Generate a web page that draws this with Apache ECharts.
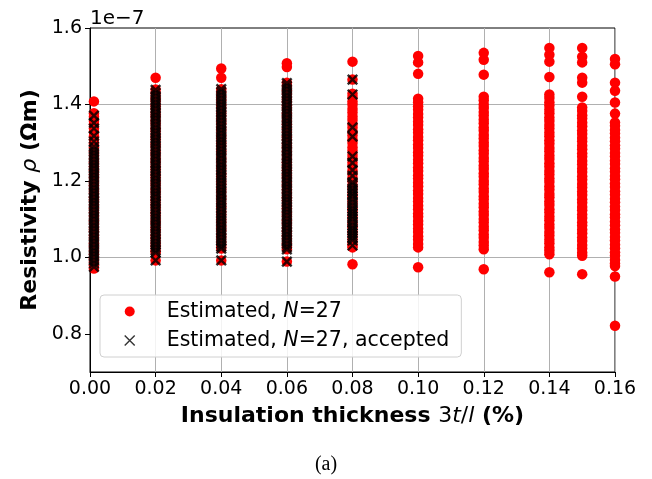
<!DOCTYPE html>
<html><head><meta charset="utf-8">
<script src="https://cdn.jsdelivr.net/npm/echarts@6/dist/echarts.min.js"></script>
<style>html,body{margin:0;padding:0;background:#fff}#c{width:652px;height:479px}</style>
</head><body><div id="c"></div>
<script>
// x positions of the columns (insulation thickness, %)
const xCols = [0.0012, 0.02, 0.04, 0.06, 0.08, 0.10, 0.12, 0.14, 0.15, 0.16];
// Estimated, N=27 (resistivity, units of 1e-7 Ohm m)
const est000 = [1.408,1.377,1.368,1.357,1.348,1.337,1.328,1.317,1.308,1.297,1.288,1.277,1.268,1.257,1.248,1.237,1.228,1.217,1.208,1.197,1.188,1.177,1.168,1.157,1.148,1.137,1.128,1.117,1.108,1.097,1.088,1.077,1.068,1.057,1.048,1.037,1.028,1.017,1.008,0.997,0.988,0.979,0.971];
const est002 = [1.470,1.439,1.429,1.418,1.409,1.398,1.389,1.378,1.369,1.358,1.349,1.338,1.329,1.318,1.309,1.298,1.289,1.278,1.269,1.258,1.249,1.238,1.229,1.218,1.209,1.198,1.189,1.178,1.169,1.158,1.149,1.138,1.129,1.118,1.109,1.098,1.089,1.078,1.069,1.058,1.049,1.038,1.029,1.018,1.012,0.992];
const est004 = [1.494,1.470,1.440,1.431,1.420,1.411,1.400,1.391,1.380,1.371,1.360,1.351,1.340,1.331,1.320,1.311,1.300,1.291,1.280,1.271,1.260,1.251,1.240,1.231,1.220,1.211,1.200,1.191,1.180,1.171,1.160,1.151,1.140,1.131,1.120,1.111,1.100,1.091,1.080,1.071,1.060,1.051,1.040,1.031,1.023,0.992];
const est006 = [1.508,1.498,1.457,1.448,1.437,1.428,1.417,1.408,1.397,1.388,1.377,1.368,1.357,1.348,1.337,1.328,1.317,1.308,1.297,1.288,1.277,1.268,1.257,1.248,1.237,1.228,1.217,1.208,1.197,1.188,1.177,1.168,1.157,1.148,1.137,1.128,1.117,1.108,1.097,1.088,1.077,1.068,1.057,1.048,1.037,1.028,1.021,0.989];
const est008 = [1.512,1.465,1.428,1.419,1.408,1.399,1.388,1.379,1.368,1.359,1.348,1.339,1.328,1.319,1.308,1.299,1.288,1.279,1.268,1.259,1.248,1.239,1.228,1.219,1.208,1.199,1.188,1.179,1.168,1.159,1.148,1.139,1.128,1.119,1.108,1.099,1.088,1.079,1.068,1.059,1.048,1.039,1.031,1.026,0.982];
const est010 = [1.527,1.510,1.480,1.415,1.406,1.395,1.386,1.375,1.366,1.355,1.346,1.335,1.326,1.315,1.306,1.295,1.286,1.275,1.266,1.255,1.246,1.235,1.226,1.215,1.206,1.195,1.186,1.175,1.166,1.155,1.146,1.135,1.126,1.115,1.106,1.095,1.086,1.075,1.066,1.055,1.046,1.035,1.026,0.974];
const est012 = [1.535,1.517,1.478,1.420,1.411,1.400,1.391,1.380,1.371,1.360,1.351,1.340,1.331,1.320,1.311,1.300,1.291,1.280,1.271,1.260,1.251,1.240,1.231,1.220,1.211,1.200,1.191,1.180,1.171,1.160,1.151,1.140,1.131,1.120,1.111,1.100,1.091,1.080,1.071,1.060,1.051,1.040,1.031,1.021,0.969];
const est014 = [1.548,1.530,1.512,1.472,1.426,1.417,1.406,1.397,1.386,1.377,1.366,1.357,1.346,1.337,1.326,1.317,1.306,1.297,1.286,1.277,1.266,1.257,1.246,1.237,1.226,1.217,1.206,1.197,1.186,1.177,1.166,1.157,1.146,1.137,1.126,1.117,1.106,1.097,1.086,1.077,1.066,1.057,1.046,1.037,1.026,1.017,1.008,0.961];
const est015 = [1.548,1.525,1.510,1.470,1.457,1.420,1.392,1.383,1.372,1.363,1.352,1.343,1.332,1.323,1.312,1.303,1.292,1.283,1.272,1.263,1.252,1.243,1.232,1.223,1.212,1.203,1.192,1.183,1.172,1.163,1.152,1.143,1.132,1.123,1.112,1.103,1.092,1.083,1.072,1.063,1.052,1.043,1.032,1.023,1.012,1.004,0.956];
const est016 = [1.519,1.505,1.457,1.436,1.405,1.376,1.353,1.344,1.333,1.324,1.313,1.304,1.293,1.284,1.273,1.264,1.253,1.244,1.233,1.224,1.213,1.204,1.193,1.184,1.173,1.164,1.153,1.144,1.133,1.124,1.113,1.104,1.093,1.084,1.073,1.064,1.053,1.044,1.033,1.024,1.013,1.004,0.993,0.984,0.977,0.950,0.821];
// Estimated, N=27, accepted
const acc000 = [1.371,1.352,1.337,1.318,1.303,1.290,1.281,1.273,1.265,1.256,1.248,1.240,1.232,1.223,1.215,1.207,1.199,1.190,1.182,1.174,1.166,1.157,1.149,1.141,1.133,1.124,1.116,1.108,1.100,1.091,1.083,1.075,1.067,1.058,1.050,1.042,1.034,1.025,1.017,1.009,1.001,0.992,0.984,0.975];
const acc002 = [1.438,1.430,1.422,1.413,1.405,1.397,1.389,1.380,1.372,1.364,1.356,1.347,1.339,1.331,1.323,1.314,1.306,1.298,1.290,1.281,1.273,1.265,1.257,1.248,1.240,1.232,1.224,1.215,1.207,1.199,1.191,1.182,1.174,1.166,1.158,1.149,1.141,1.133,1.125,1.116,1.108,1.100,1.092,1.083,1.075,1.067,1.059,1.050,1.042,1.034,1.026,1.018,1.012,0.992];
const acc004 = [1.440,1.432,1.424,1.415,1.407,1.399,1.391,1.382,1.374,1.366,1.358,1.349,1.341,1.333,1.325,1.316,1.308,1.300,1.292,1.283,1.275,1.267,1.259,1.250,1.242,1.234,1.226,1.217,1.209,1.201,1.193,1.184,1.176,1.168,1.160,1.151,1.143,1.135,1.127,1.118,1.110,1.102,1.094,1.085,1.077,1.069,1.061,1.052,1.044,1.036,1.028,1.023,0.992];
const acc006 = [1.456,1.448,1.440,1.431,1.423,1.415,1.407,1.398,1.390,1.382,1.374,1.365,1.357,1.349,1.341,1.332,1.324,1.316,1.308,1.299,1.291,1.283,1.275,1.266,1.258,1.250,1.242,1.233,1.225,1.217,1.209,1.200,1.192,1.184,1.176,1.167,1.159,1.151,1.143,1.134,1.126,1.118,1.110,1.101,1.093,1.085,1.077,1.068,1.060,1.052,1.044,1.035,1.027,1.021,0.989];
const acc008 = [1.465,1.426,1.340,1.316,1.264,1.247,1.228,1.213,1.196,1.189,1.180,1.174,1.166,1.161,1.152,1.144,1.135,1.127,1.120,1.114,1.107,1.101,1.092,1.083,1.076,1.070,1.063,1.057,1.050,1.044,1.031];
const yTicks = [0.8, 1.0, 1.2, 1.4, 1.6];

const estCols = [est000, est002, est004, est006, est008, est010, est012, est014, est015, est016];
const accCols = [acc000, acc002, acc004, acc006, acc008];
const estData = [], accData = [];
estCols.forEach((col, i) => col.forEach(v => estData.push([xCols[i], v])));
accCols.forEach((col, i) => col.forEach(v => accData.push([xCols[i], v])));

const FONT = 'DejaVu Sans';
const chart = echarts.init(document.getElementById('c'), null, {renderer: 'canvas'});
chart.setOption({
  animation: false,
  backgroundColor: '#fff',
  grid: {left: 90, right: 37, top: 28, bottom: 107, show: true, borderColor: '#000', borderWidth: 1, backgroundColor: 'transparent'},
  xAxis: {
    type: 'value', min: 0, max: 0.16, interval: 0.02,
    axisLine: {lineStyle: {color: '#000', width: 1}},
    axisTick: {show: true, length: 5, lineStyle: {color: '#000'}},
    axisLabel: {color: '#000', fontFamily: FONT, fontSize: 19, margin: 8, formatter: v => v.toFixed(2)},
    splitLine: {show: true, lineStyle: {color: '#b0b0b0', width: 1}},
    name: '{b|Insulation thickness }{m|3}{i|t}{m|/}{i|l}{b| (%)}',
    nameLocation: 'middle', nameGap: 33,
    nameTextStyle: {rich: {
      b: {fontFamily: FONT, fontWeight: 'bold', fontSize: 22, color: '#000'},
      m: {fontFamily: FONT, fontSize: 22, color: '#000'},
      i: {fontFamily: FONT, fontStyle: 'italic', fontSize: 22, color: '#000'}
    }}
  },
  yAxis: {
    type: 'value', min: 0.7, max: 1.6, interval: 0.1,
    axisLine: {lineStyle: {color: '#000', width: 1}},
    axisTick: {show: true, length: 5, lineStyle: {color: '#000'}, customValues: yTicks},
    axisLabel: {color: '#000', fontFamily: FONT, fontSize: 19, margin: 8, customValues: yTicks,
      formatter: v => (Math.round(v * 10) % 2 === 0 ? v.toFixed(1) : '')},
    splitLine: {show: true, lineStyle: {color: ['transparent', '#b0b0b0'], width: 1}},
    name: '{b|Resistivity }{i|ρ}{b| (Ωm)}',
    nameLocation: 'middle', nameRotate: 90, nameGap: 48,
    nameTextStyle: {rich: {
      b: {fontFamily: FONT, fontWeight: 'bold', fontSize: 22, color: '#000'},
      i: {fontFamily: FONT, fontStyle: 'italic', fontSize: 22, color: '#000'}
    }}
  },
  legend: {
    left: 100, top: 295, orient: 'vertical',
    padding: [6, 12, 6, 24], itemGap: 8, itemWidth: 64, itemHeight: 10,
    backgroundColor: 'rgba(255,255,255,0.85)', borderColor: '#d0d0d0', borderWidth: 1, borderRadius: 4,
    data: [{name: 'est'}, {name: 'acc', itemStyle: {borderWidth: 1.4}}],
    formatter: n => n === 'est' ? 'Estimated, {i|N}=27' : 'Estimated, {i|N}=27, accepted',
    textStyle: {fontFamily: FONT, fontSize: 20.5, color: '#000', rich: {
      i: {fontFamily: FONT, fontStyle: 'italic', fontSize: 20.5, color: '#000'}
    }}
  },
  graphic: [
    {type: 'text', left: 90, top: 9, style: {text: '1e\u22127', font: '20px "DejaVu Sans"', fill: '#000'}},
    {type: 'text', left: 'center', top: 455, style: {text: '(a)', font: '20px "Liberation Serif"', fill: '#000'}}
  ],
  series: [
    {name: 'est', type: 'scatter', data: estData, symbol: 'circle', symbolSize: 10.5,
      itemStyle: {color: '#ff0000', opacity: 1}, clip: true, z: 2},
    {name: 'acc', type: 'scatter', data: accData, symbol: 'path://M0,0L10,10M10,0L0,10', symbolSize: 9.5,
      itemStyle: {color: 'transparent', borderColor: '#000', borderWidth: 2.4}, clip: true, z: 3}
  ]
});
</script></body></html>
